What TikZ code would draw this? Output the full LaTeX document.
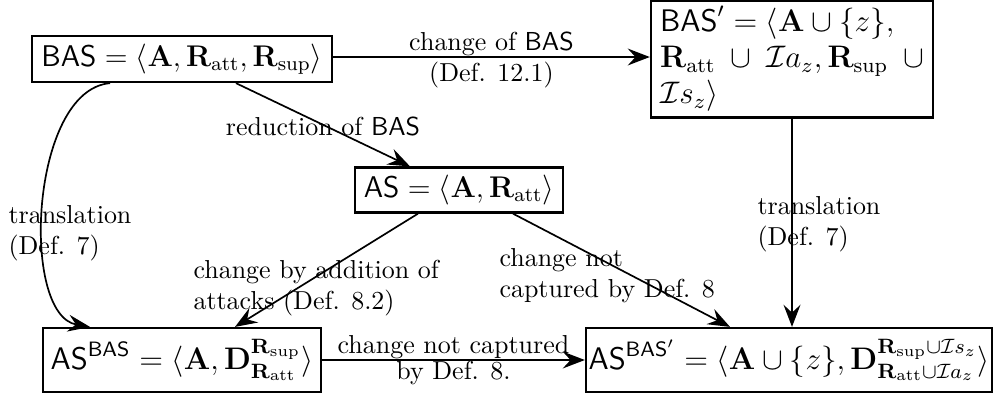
\documentclass[tikz,border=0pt]{standalone}
\usepackage{amsmath,amssymb,graphicx}
\usetikzlibrary{arrows.meta,calc}
\tikzset{
  box/.style={draw,line width=0.9pt,inner sep=0pt,align=center,font=\large},
  conn/.style={line width=0.65pt,-{Stealth[length=8.5pt,width=6.5pt,inset=3pt]}},
  lbl/.style={inner sep=0pt,align=left,anchor=west},
}
\newcommand{\Rb}{\mathbf{R}}
\begin{document}
\begin{tikzpicture}[x=0.385pt,y=-0.385pt]
\useasboundingbox (0,0) rectangle (995,401);
\node[box,minimum width=115.5pt,minimum height=17.7pt] (bas) at (182,59)
  {\scalebox{0.96}{$\mathsf{BAS}=\langle\mathbf{A},\Rb_{\mathrm{att}},\Rb_{\mathrm{sup}}\rangle$}};
\node[box,minimum width=108.6pt,minimum height=45pt,text width=101.5pt,align=left] (basp) at (792,59)
  {$\mathsf{BAS}'=\langle\mathbf{A}\cup\{z\},$\\
   \leavevmode\hbox to \linewidth{$\Rb_{\mathrm{att}}$\hfil$\cup$\hfil$\mathcal{I}a_z,\Rb_{\mathrm{sup}}$\hfil$\cup$}\\
   $\mathcal{I}s_z\rangle$};
\node[box,minimum width=80.1pt,minimum height=17.3pt] (as) at (459,190)
  {\scalebox{0.96}{$\mathsf{AS}=\langle\mathbf{A},\Rb_{\mathrm{att}}\rangle$}};
\node[box,minimum width=107pt,minimum height=24.6pt] (asbas) at (182,360)
  {$\mathsf{AS}^{\mathsf{BAS}}=\langle\mathbf{A},\mathbf{D}^{\Rb_{\mathrm{sup}}}_{\Rb_{\mathrm{att}}}\rangle$};
\node[box,minimum width=156.3pt,minimum height=24.6pt] (asbasp) at (789,360)
  {$\mathsf{AS}^{\mathsf{BAS}'}=\langle\mathbf{A}\cup\{z\},\mathbf{D}^{\Rb_{\mathrm{sup}}\cup\mathcal{I}s_z}_{\Rb_{\mathrm{att}}\cup\mathcal{I}a_z}\rangle$};
% connectors
\draw[conn] (bas.east |- 0,57) -- (basp.west |- 0,57)
  node[midway,above,inner sep=0.3pt] {change of $\mathsf{BAS}$}
  node[midway,below,inner sep=1.5pt] {(Def. 12.1)};
\draw[conn] ($(bas.south)+(54,0)$) -- ($(as.north)+(-49,0)$)
  node[midway,inner sep=0pt,yshift=-0.6pt] {reduction of $\mathsf{BAS}$};
\draw[conn] ($(bas.south)+(-72,0)$) .. controls (30,90) and (20,315) .. ($(asbas.north)+(-92,0)$);
\node[lbl] (tl) at (8,233) {translation\\(Def. 7)};
\draw[conn] ($(as.south)+(-41,0)$) -- ($(asbas.north)+(53,0)$);
\node[lbl] (l2) at (193,288) {change by addition of\\attacks (Def. 8.2)};
\draw[conn] ($(as.south)+(54,0)$) -- ($(asbasp.north)+(-59,0)$);
\node[lbl] (l3) at (499,276) {change not\\captured by Def. 8};
\draw[conn] (basp.south) -- (asbasp.north -| basp.south);
\node[lbl] (tr) at (757,224) {translation\\(Def. 7)};
\draw[conn] (asbas.east) -- (asbasp.west)
  node[midway,above,inner sep=0pt] {change not captured}
  node[midway,below,inner sep=0pt] {by Def. 8.};
\end{tikzpicture}
\end{document}
